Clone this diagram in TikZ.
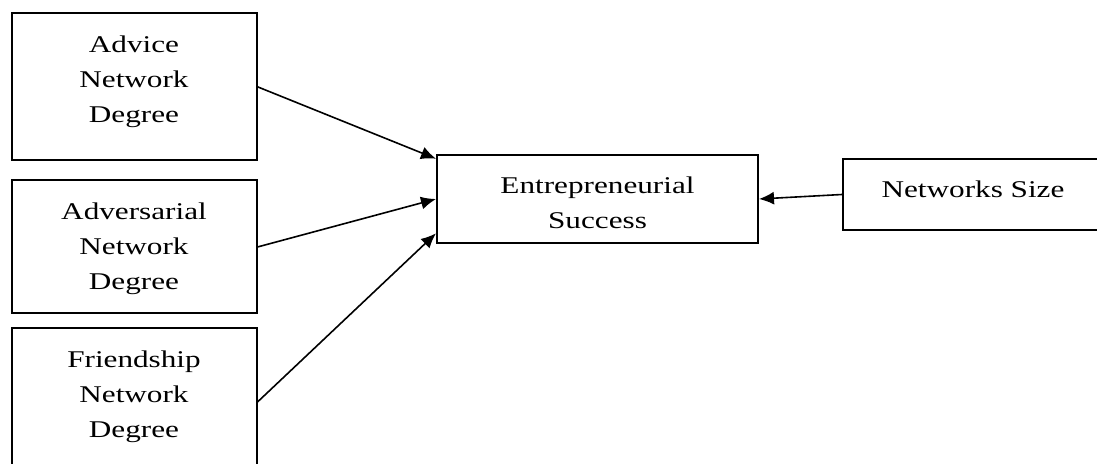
\documentclass[tikz,border=0pt]{standalone}
\usepackage{fontspec}
\setmainfont{Liberation Serif}[FakeStretch=1.3]
\usetikzlibrary{arrows.meta}
\newcommand{\toplines}[1]{\begin{tabular}[t]{@{}c@{}}#1\end{tabular}}

\begin{document}
\begin{tikzpicture}[
    x=0.5pt, y=-0.5pt,
    every node/.style={draw, line width=1pt, anchor=north west, inner xsep=0pt, inner ysep=0pt,
                       text height=19.5pt, font=\fontsize{12}{17.5}\selectfont},
    link/.style={line width=0.8pt, -{Latex[length=7.5pt,width=6.5pt]}},
]
  \useasboundingbox (0,0) rectangle (1097,464);
  \node [minimum width=160.5pt, text depth=24.5pt] (success)     at (436, 154)   {\toplines{Entrepreneurial\\Success}};
  \node [minimum width=122.5pt, text depth=53.8pt] (advice)      at (10.5,12.5)  {\toplines{Advice\\Network\\Degree}};
  \node [minimum width=122.5pt, text depth=47pt]   (adversarial) at (10.5,179.5) {\toplines{Adversarial\\Network\\Degree}};
  \node [minimum width=122.5pt, text depth=54pt]   (friendship)  at (10.5,327.5) {\toplines{Friendship\\Network\\Degree}};
  \node [minimum width=130pt,   text depth=16pt]   (size)        at (842, 158)   {Networks Size};

  \draw [link] (advice.east)      -- (success.166);
  \draw [link] (adversarial.east) -- (success.west);
  \draw [link] (friendship.east)  -- (success.192);
  \draw [link] (size.west)        -- (success.east);
\end{tikzpicture}
\end{document}
